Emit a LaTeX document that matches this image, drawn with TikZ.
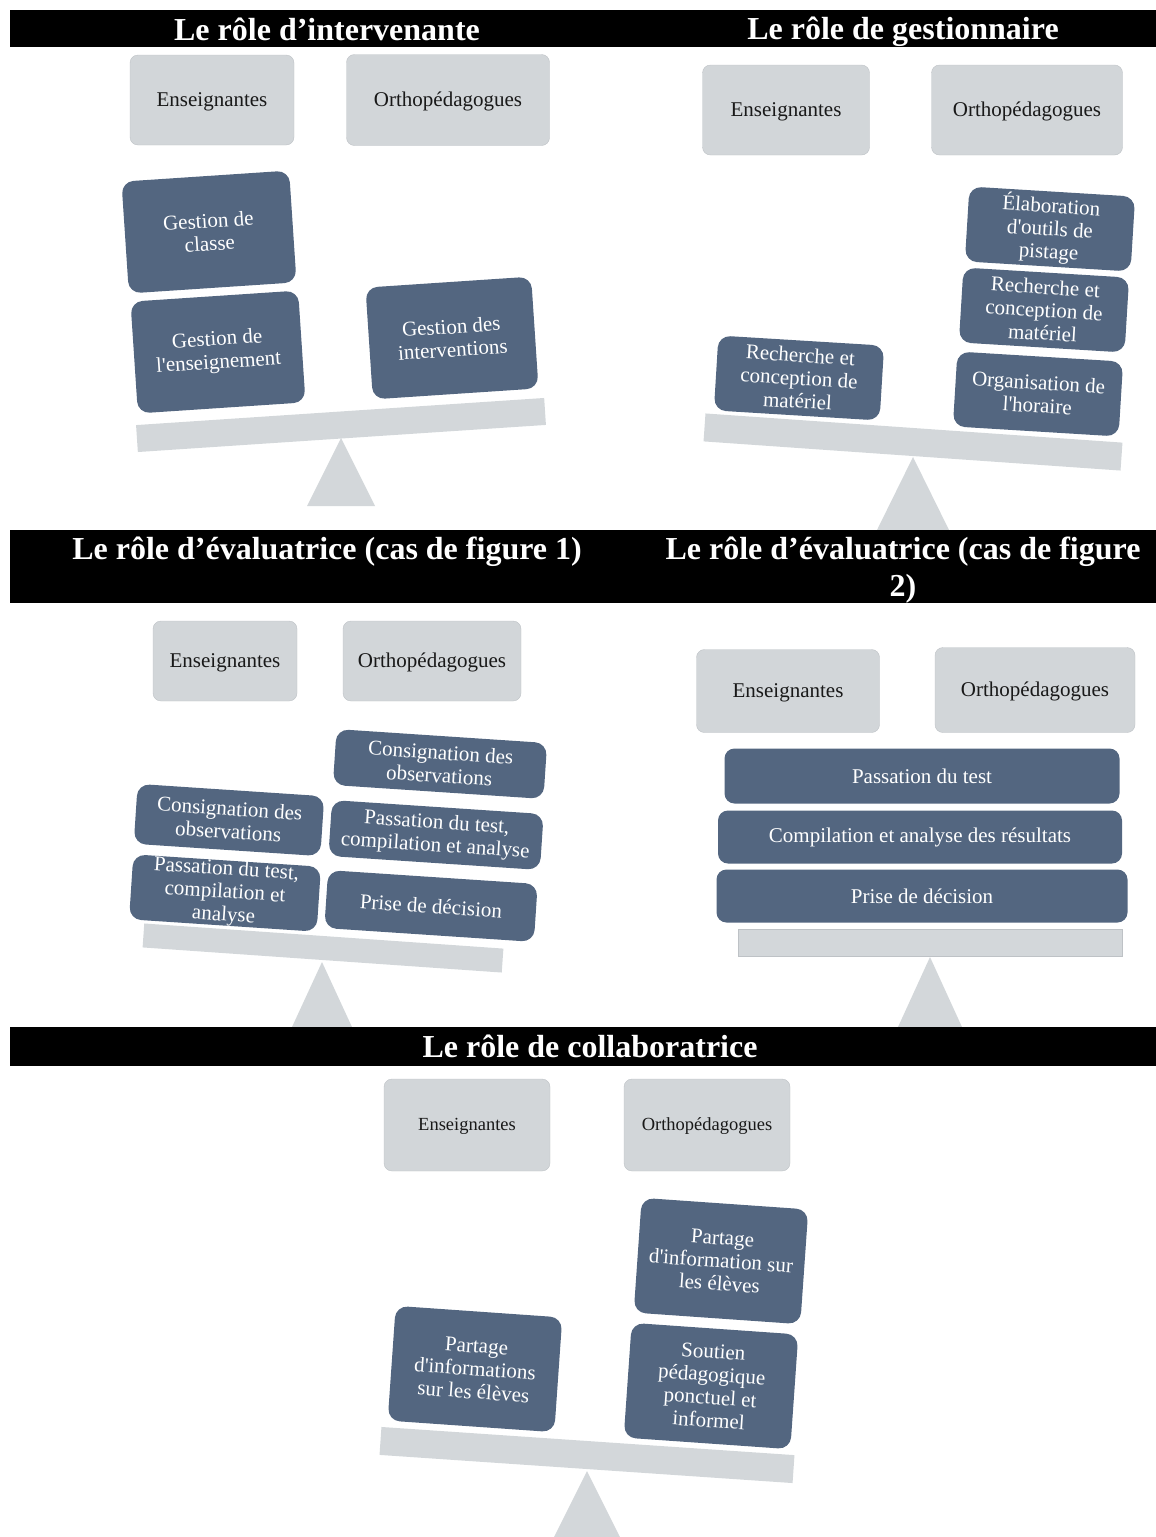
\documentclass[tikz,border=0pt]{standalone}
\usepackage{fontspec}
\setmainfont{Liberation Serif}
\usepackage{tikz}
\definecolor{rolebleu}{HTML}{536680}
\definecolor{actgris}{HTML}{D2D6D9}
\definecolor{actbord}{HTML}{BEC2C6}
\definecolor{socle}{HTML}{D3D7DA}
\tikzset{
	role/.style={fill=rolebleu, text=white, rounded corners=12pt, align=center, inner sep=0pt, font=\fontsize{21}{23}\selectfont},
	acteur/.style={fill=actgris, draw=actbord, rounded corners=8pt, align=center, inner sep=0pt, text=black!90, text height=15pt, text depth=2pt, font=\fontsize{21}{23}\selectfont},
	acteurpetit/.style={acteur, text height=13pt, text depth=2pt, font=\fontsize{18.5}{22}\selectfont},
	planche/.style={fill=socle, inner sep=0pt},
	bandeau/.style={text=white, align=center, font=\bfseries\fontsize{32}{37}\selectfont}
}
\def\pivot(#1,#2)(#3:#4){\fill[socle] (#1-#3,#4) -- (#1,#2) -- (#1+#3,#4) -- cycle;}
\def\apo{\textquotesingle}

\begin{document}
\begin{tikzpicture}[x=1pt,y=-1pt]
		\useasboundingbox (0,0) rectangle (1156,1537);
		%%%%% INTERVENANTE / GESTIONNAIRE %%%%%
		\fill[black] (10,10) rectangle (1156,47);
		\node[bandeau] (titre1) at (327,29) {Le rôle d’intervenante};
		\node[bandeau] (titre2) at (903,32) {Le rôle de gestionnaire};
		
		\node[acteur, minimum width=164pt, minimum height=90pt] (ens1) at (212,100) {Enseignantes};
		\node[acteur, minimum width=203pt, minimum height=91pt] (ortho1) at (448,100) {Orthopédagogues};
		\pivot(341,438)(34:506)
		\node[planche, minimum width=409pt, minimum height=27pt, rotate=3.8] (planche1) at (341,425) {};
		\node[role, minimum width=168pt, minimum height=112pt, rotate=3.8] (classe1) at (209,232) {Gestion de\\classe};
		\node[role, minimum width=168pt, minimum height=112pt, rotate=3.8] (enseig1) at (218,352) {Gestion de\\l\apo enseignement};
		\node[role, minimum width=166pt, minimum height=112pt, rotate=3.8] (interv1) at (452,338) {Gestion des\\interventions};
		
		\node[acteur, minimum width=167pt, minimum height=90pt] (ens2) at (786,110) {Enseignantes};
		\node[acteur, minimum width=191pt, minimum height=90pt] (ortho2) at (1027,110) {Orthopédagogues};
		\pivot(913,457)(36:530)
		\node[planche, minimum width=418pt, minimum height=28pt, rotate=-4] (planche2) at (913,442) {};
		\node[role, minimum width=166pt, minimum height=75pt, rotate=-3.5] (recherche2a) at (799,378) {Recherche et\\conception de\\matériel};
		\node[role, minimum width=166pt, minimum height=75pt, rotate=-3.5] (outils2) at (1050,229) {Élaboration\\d\apo outils de\\pistage};
		\node[role, minimum width=166pt, minimum height=75pt, rotate=-3.5] (recherche2b) at (1044,310) {Recherche et\\conception de\\matériel};
		\node[role, minimum width=166pt, minimum height=75pt, rotate=-3.5] (horaire2) at (1038,394) {Organisation de\\l\apo horaire};
		
		%%%%% EVALUATRICE %%%%%
		\fill[black] (10,530) rectangle (1156,603);
		\node[bandeau] (titre3) at (327,552) {Le rôle d’évaluatrice (cas de figure 1)};
		\node[bandeau] (titre4) at (903,570) {Le rôle d’évaluatrice (cas de figure\\2)};
		
		\node[acteur, minimum width=144pt, minimum height=80pt] (ens3) at (225,661) {Enseignantes};
		\node[acteur, minimum width=178pt, minimum height=80pt] (ortho3) at (432,661) {Orthopédagogues};
		\pivot(322,962)(30:1027)
		\node[planche, minimum width=360pt, minimum height=24pt, rotate=-4] (planche3) at (323,948) {};
		\node[role, minimum width=187pt, minimum height=60pt, rotate=-3.8] (consign3a) at (229,820) {Consignation des\\observations};
		\node[role, minimum width=188pt, minimum height=61pt, rotate=-3.8] (passation3a) at (225,893) {Passation du test,\\compilation et\\analyse};
		\node[role, minimum width=211pt, minimum height=56pt, rotate=-3.8] (consign3b) at (440,764) {Consignation des\\observations};
		\node[role, minimum width=212pt, minimum height=56pt, rotate=-3.8] (passation3b) at (436,835) {Passation du test,\\compilation et analyse};
		\node[role, minimum width=210pt, minimum height=58pt, rotate=-3.8] (decision3) at (431,906) {Prise de décision};
		
		\node[acteur, minimum width=183pt, minimum height=83pt] (ens4) at (788,691) {Enseignantes};
		\node[acteur, minimum width=200pt, minimum height=85pt] (ortho4) at (1035,690) {Orthopédagogues};
		\pivot(930,957)(32:1027)
		\node[planche, draw=actbord, minimum width=384pt, minimum height=27pt] (planche4) at (930,943) {};
		\node[role, rounded corners=10pt, minimum width=395pt, minimum height=55pt] (passation4) at (922,776) {Passation du test};
		\node[role, rounded corners=10pt, minimum width=404pt, minimum height=53pt] (compil4) at (920,837) {Compilation et analyse des résultats};
		\node[role, rounded corners=10pt, minimum width=411pt, minimum height=53pt] (decision4) at (922,896) {Prise de décision};
		
		%%%%% COLLABORATRICE %%%%%
		\fill[black] (10,1027) rectangle (1156,1066);
		\node[bandeau] (titre5) at (590,1046) {Le rôle de collaboratrice};
		
		\node[acteurpetit, minimum width=166pt, minimum height=92pt] (ens5) at (467,1125) {Enseignantes};
		\node[acteurpetit, minimum width=166pt, minimum height=92pt] (ortho5) at (707,1125) {Orthopédagogues};
		\pivot(587,1471)(33:1537)
		\node[planche, minimum width=414pt, minimum height=28pt, rotate=-3.9] (planche5) at (587,1455) {};
		\node[role, minimum width=167pt, minimum height=115pt, rotate=-4] (partage5a) at (475,1369) {Partage\\d\apo informations\\sur les élèves};
		\node[role, minimum width=167pt, minimum height=115pt, rotate=-4] (partage5b) at (721,1261) {Partage\\d\apo information sur\\les élèves};
		\node[role, minimum width=167pt, minimum height=115pt, rotate=-4] (soutien5) at (711,1386) {Soutien\\pédagogique\\ponctuel et\\informel};
		%%%%% END %%%%%
\end{tikzpicture}
\end{document}
